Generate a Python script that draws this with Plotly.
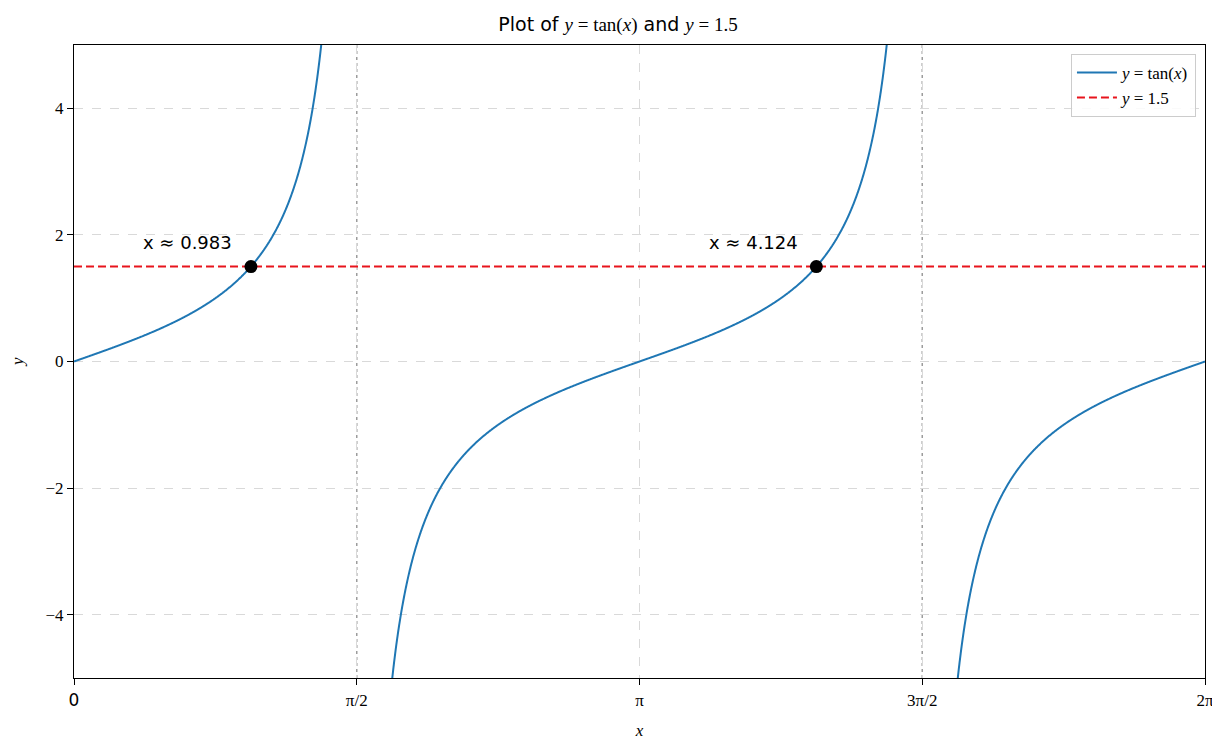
import numpy as np
import plotly.graph_objects as go

# ---- data ----
x_curve = np.linspace(0, 2 * np.pi, 4001)
y_level = 1.5
x_solutions = [0.983, 4.124]
solution_labels = ["x ≈ 0.983", "x ≈ 4.124"]
asymptotes = [np.pi / 2, 3 * np.pi / 2]
x_tick_vals = [0, np.pi / 2, np.pi, 3 * np.pi / 2, 2 * np.pi]
x_tick_text = ["0", "π/2", "π", "3π/2", "2π"]
y_tick_vals = [-4, -2, 0, 2, 4]
y_tick_text = ["−4", "−2", "0", "2", "4"]

SERIF = "Liberation Serif, DejaVu Serif, serif"
SANS = "DejaVu Sans, sans-serif"

# tan curve with breaks at asymptotes
y_curve = np.tan(x_curve)
xs, ys = [], []
prev = None
for xv, yv in zip(x_curve, y_curve):
    if prev is not None and prev > 0 and yv < 0 and abs(yv - prev) > 10:
        xs.append(None)
        ys.append(None)
    xs.append(float(xv))
    ys.append(float(yv))
    prev = yv

fig = go.Figure()
fig.add_trace(go.Scatter(
    x=xs, y=ys, mode="lines",
    line=dict(color="#1f77b4", width=2, simplify=False),
    name="<i>y</i> = tan(<i>x</i>)",
))
fig.add_trace(go.Scatter(
    x=[0, 2 * np.pi], y=[y_level, y_level], mode="lines",
    line=dict(color="#e8141c", width=2, dash="8px,4px"),
    name="<i>y</i> = 1.5",
))
fig.add_trace(go.Scatter(
    x=x_solutions, y=[y_level] * len(x_solutions), mode="markers",
    marker=dict(color="black", size=13),
    showlegend=False,
))

for a in asymptotes:
    fig.add_shape(type="line", x0=a, x1=a, y0=0, y1=1, xref="x", yref="paper",
                  line=dict(color="rgba(90,90,90,0.6)", width=1.5, dash="dot"), layer="below")

for xv, lab in zip(x_solutions, solution_labels):
    fig.add_annotation(x=xv, y=y_level, text=lab, showarrow=False,
                       xshift=-63, yshift=24,
                       font=dict(family=SANS, size=18, color="black"))

# y-axis label
fig.add_annotation(x=-0.05, y=0.5, xref="paper", yref="paper", text="<i>y</i>",
                   textangle=-90, showarrow=False, xanchor="center", yanchor="middle",
                   font=dict(family=SERIF, size=17, color="black"))

ticktext_x = []
for t in x_tick_text:
    if t == "0":
        ticktext_x.append(f"<span style='font-family:DejaVu Sans'>{t}</span>")
    else:
        ticktext_x.append(t)

fig.update_layout(
    width=1220, height=740,
    margin=dict(l=66, r=23, t=37, b=67),
    paper_bgcolor="white", plot_bgcolor="white",
    title=dict(
        text="Plot of <span style='font-family:Liberation Serif'><i>y</i> = tan(<i>x</i>)</span> and "
             "<span style='font-family:Liberation Serif'><i>y</i> = 1.5</span>",
        x=0.5, xanchor="center", y=1 - 16 / 740, yanchor="middle",
        font=dict(family=SANS, size=19, color="black"),
    ),
    showlegend=True,
    legend=dict(
        x=0.992, y=0.986, xanchor="right", yanchor="top",
        bgcolor="rgba(255,255,255,0.85)", bordercolor="#cccccc", borderwidth=1,
        font=dict(family=SERIF, size=17, color="black"),
        itemwidth=40,
    ),
    xaxis=dict(
        range=[0, 2 * np.pi], tickmode="array", tickvals=x_tick_vals, ticktext=ticktext_x,
        ticks="outside", ticklen=6, tickwidth=1.2, tickcolor="black",
        showline=True, linecolor="black", linewidth=1.2, mirror=True,
        showgrid=True, gridcolor="#d9d9d9", gridwidth=1, griddash="dash",
        zeroline=False,
        tickfont=dict(family=SERIF, size=17, color="black"),
        title=dict(text="<i>x</i>", font=dict(family=SERIF, size=17, color="black"), standoff=15),
    ),
    yaxis=dict(
        range=[-5, 5], tickmode="array", tickvals=y_tick_vals, ticktext=y_tick_text,
        ticks="outside", ticklen=6, tickwidth=1.2, tickcolor="black",
        showline=True, linecolor="black", linewidth=1.2, mirror=True,
        showgrid=True, gridcolor="#d9d9d9", gridwidth=1, griddash="dash",
        zeroline=False,
        tickfont=dict(family=SERIF, size=17, color="black"),
    ),
)

fig.write_html("out.html")
